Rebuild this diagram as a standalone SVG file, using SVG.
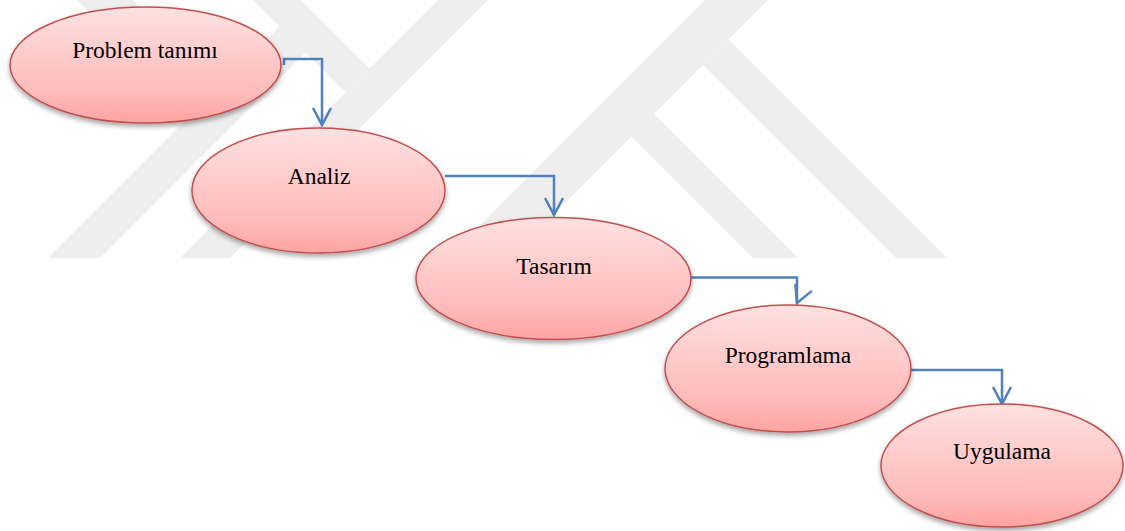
<svg xmlns="http://www.w3.org/2000/svg" width="1125" height="531" viewBox="0 0 1125 531">
<defs>
<linearGradient id="pink" x1="0" y1="0" x2="0" y2="1">
<stop offset="0" stop-color="#ffe1e1"/>
<stop offset="0.75" stop-color="#ffbaba"/>
<stop offset="1" stop-color="#ffa3a3"/>
</linearGradient>
<filter id="shadow" x="-10%" y="-10%" width="120%" height="135%">
<feDropShadow dx="0" dy="3" stdDeviation="2.5" flood-color="#000" flood-opacity="0.35"/>
</filter>
<marker id="arr" markerUnits="userSpaceOnUse" viewBox="-20 -12 24 24" markerWidth="24" markerHeight="24" refX="0" refY="0" orient="auto" overflow="visible">
<path d="M-17,-9 L0,0 L-17,9" fill="none" stroke="#4f81bd" stroke-width="2.5"/>
</marker>
<marker id="arrSkew" markerUnits="userSpaceOnUse" viewBox="-20 -12 24 24" markerWidth="24" markerHeight="24" refX="0" refY="0" orient="113" overflow="visible">
<path d="M-17,-9 L0,0 L-17,9" fill="none" stroke="#4f81bd" stroke-width="2.5"/>
</marker>
</defs>
<style>
.wm{fill:#eeeeee}
.node ellipse{fill:url(#pink);stroke:#c0504d;stroke-width:1.5;filter:url(#shadow)}
.node text{font-family:"Liberation Serif","Times New Roman",serif;font-size:23.5px;fill:#000;text-anchor:middle}
.conn path{fill:none;stroke:#4f81bd;stroke-width:2.5}
</style>
<rect width="1125" height="531" fill="#ffffff"/>
<g id="watermark" class="wm">
<polygon points="48,258 100,258 305.5,52.5 279.5,26.5"/>
<polygon points="77,0 133,0 219.5,86.5 191.5,114.5"/>
<polygon points="180,258 230,258 488,0 438,0"/>
<polygon points="253,0 301,0 369.5,68.5 345.5,92.5"/>
<polygon points="447,258 510,258 768,0 705,0"/>
<polygon points="622.5,82.5 798,258 753,258 631.5,136.5"/>
<polygon points="728.5,39.5 947,258 896,258 703,65"/>
</g>
<g id="connectors" class="conn">
<path d="M284,65 V59 H322 V125" marker-end="url(#arr)"/>
<path d="M445,176 H554 V215" marker-end="url(#arr)"/>
<path d="M690,277.5 H797 V303" marker-end="url(#arrSkew)"/>
<path d="M911,370 H1002 V404" marker-end="url(#arr)"/>
</g>
<g id="node-problem" class="node">
<ellipse cx="145.5" cy="65" rx="135.5" ry="58"/>
<text x="145" y="58">Problem tanımı</text>
</g>
<g id="node-analiz" class="node">
<ellipse cx="318.5" cy="190.5" rx="126.5" ry="62.5"/>
<text x="319" y="184">Analiz</text>
</g>
<g id="node-tasarim" class="node">
<ellipse cx="553.5" cy="278.5" rx="137.5" ry="61"/>
<text x="554" y="274">Tasarım</text>
</g>
<g id="node-programlama" class="node">
<ellipse cx="788" cy="368.5" rx="123" ry="63.5"/>
<text x="788" y="363">Programlama</text>
</g>
<g id="node-uygulama" class="node">
<ellipse cx="1002" cy="465.5" rx="121" ry="61.5"/>
<text x="1002" y="459">Uygulama</text>
</g>
</svg>
